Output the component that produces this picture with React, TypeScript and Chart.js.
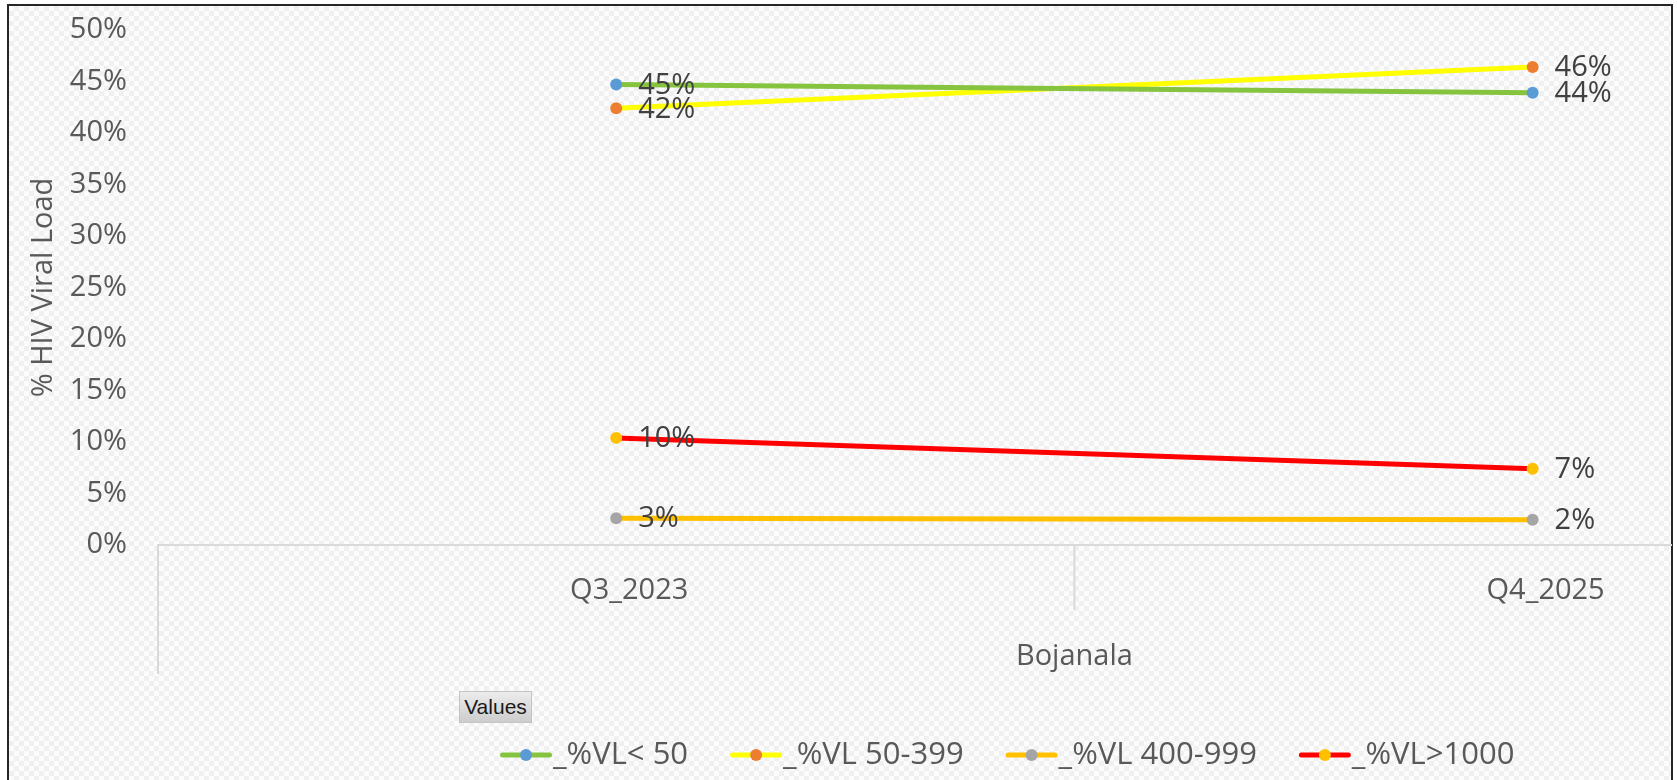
import React, { useEffect, useRef } from 'react';
import { Chart, registerables } from 'chart.js';

Chart.register(...registerables);

const categories = ['Q3_2023', 'Q4_2025'];
const regionLabel = 'Bojanala';
const yTitle = '% HIV Viral Load';
const legendTitle = 'Values';
const seriesNames = ['_%VL< 50', '_%VL 50-399', '_%VL 400-999', '_%VL>1000'];
const vlBelow50 = [44.7, 43.9];
const vl50to399 = [42.4, 46.4];
const vl400to999 = [2.6, 2.45];
const vlAbove1000 = [10.4, 7.4];
const seriesValues = [vlBelow50, vl50to399, vl400to999, vlAbove1000];
const lineColors = ['#86C440', '#FFFF00', '#FFC000', '#FF0000'];
const pointColors = ['#5B9BD5', '#ED7D31', '#A5A5A5', '#FFC000'];
const yMin = 0;
const yMax = 50;
const yStep = 5;

const FONT = "'Open Sans', 'Noto Sans', sans-serif";

const overlayPlugin = {
  id: 'overlay',
  afterDatasetsDraw(chart: any) {
    const ctx = chart.ctx;
    const xs = chart.scales.x;
    const area = chart.chartArea;
    ctx.save();
    // multi-level axis separators
    ctx.strokeStyle = '#d9d9d9';
    ctx.lineWidth = 2;
    const xl = xs.getPixelForValue(-0.5);
    const xm = xs.getPixelForValue(0.5);
    ctx.beginPath();
    ctx.moveTo(xl, area.bottom);
    ctx.lineTo(xl, area.bottom + 129);
    ctx.moveTo(xm, area.bottom);
    ctx.lineTo(xm, area.bottom + 65);
    ctx.stroke();
    // category labels
    ctx.fillStyle = '#595959';
    ctx.font = `29px ${FONT}`;
    ctx.textAlign = 'center';
    ctx.textBaseline = 'middle';
    categories.forEach((c, i) => {
      ctx.fillText(c, xs.getPixelForValue(i) + 13, area.bottom + 46);
    });
    // group label
    ctx.fillText(regionLabel, xm, area.bottom + 112);
    // data labels
    ctx.textAlign = 'left';
    ctx.fillStyle = '#404040';
    chart.data.datasets.forEach((ds: any, i: number) => {
      const meta = chart.getDatasetMeta(i);
      meta.data.forEach((pt: any, j: number) => {
        const v = ds.data[j].y;
        ctx.fillText(Math.round(v) + '%', pt.x + 22, pt.y + 1);
      });
    });
    // legend
    let x = 500;
    const y = 755;
    ctx.font = `31px ${FONT}`;
    chart.data.datasets.forEach((ds: any, i: number) => {
      ctx.strokeStyle = lineColors[i];
      ctx.lineWidth = 5;
      ctx.lineCap = 'round';
      ctx.beginPath();
      ctx.moveTo(x + 2.5, y);
      ctx.lineTo(x + 49.5, y);
      ctx.stroke();
      ctx.fillStyle = pointColors[i];
      ctx.beginPath();
      ctx.arc(x + 26, y, 6, 0, Math.PI * 2);
      ctx.fill();
      ctx.fillStyle = '#595959';
      ctx.fillText(ds.label, x + 53, y);
      x += 53 + ctx.measureText(ds.label).width + 42;
    });
    ctx.restore();
  },
};

export default function App() {
  const canvasRef = useRef<HTMLCanvasElement | null>(null);

  useEffect(() => {
    const canvas = canvasRef.current;
    if (!canvas) return;
    const chart = new Chart(canvas, {
      type: 'line',
      data: {
        datasets: seriesValues.map((vals, i) => ({
          label: seriesNames[i],
          data: vals.map((v, j) => ({ x: j, y: v })),
          borderColor: lineColors[i],
          backgroundColor: pointColors[i],
          pointBackgroundColor: pointColors[i],
          pointBorderWidth: 0,
          pointRadius: 6,
          borderWidth: 5,
          tension: 0,
          clip: false,
        })),
      },
      options: {
        animation: false,
        responsive: false,
        devicePixelRatio: 1,
        layout: { padding: { left: 8, top: 30, right: 0, bottom: 0 } },
        plugins: {
          legend: { display: false },
          tooltip: { enabled: false },
        },
        scales: {
          x: {
            type: 'linear',
            min: -0.5,
            max: 1.151,
            afterBuildTicks: (s: any) => {
              s.ticks = categories.map((_, i) => ({ value: i }));
            },
            afterFit: (s: any) => {
              s.height = 235;
              s.paddingLeft = 0;
              s.paddingRight = 0;
            },
            ticks: { display: false },
            grid: { display: false, drawTicks: false },
            border: { display: true, color: '#d9d9d9', width: 2 },
          },
          y: {
            min: yMin,
            max: yMax,
            afterFit: (s: any) => {
              s.width = 150;
              s.paddingTop = 0;
              s.paddingBottom = 0;
            },
            ticks: {
              stepSize: yStep,
              callback: (v: any) => v + '%',
              font: { family: FONT, size: 29 },
              color: '#595959',
              padding: 31,
            },
            grid: { display: false, drawTicks: false },
            border: { display: false },
            title: {
              display: true,
              text: yTitle,
              color: '#595959',
              font: { family: FONT, size: 29 },
              padding: { top: 18, bottom: 0 },
            },
          },
        },
      },
      plugins: [overlayPlugin],
    } as any);
    return () => chart.destroy();
  }, []);

  return (
    <div
      style={{
        position: 'fixed',
        left: 0,
        top: 0,
        width: 1677,
        height: 780,
        overflow: 'hidden',
        background: '#ffffff',
      }}
    >
      <div
        style={{
          position: 'absolute',
          left: 7,
          top: 4,
          width: 1662,
          height: 800,
          border: '2px solid #262626',
          backgroundColor: '#fbfbfb',
          backgroundImage:
            'repeating-conic-gradient(#f0f0f0 0 25%, #fcfcfc 0 50%)',
          backgroundSize: '10px 10px',
        }}
      />
      <div
        style={{
          position: 'absolute',
          left: 459,
          top: 691,
          width: 73,
          height: 32,
          background: 'linear-gradient(#ececec, #cdcdcd)',
          border: '1px solid #c4c4c4',
          boxSizing: 'border-box',
          fontFamily: "'Liberation Sans Narrow', 'Liberation Sans', sans-serif",
          fontSize: 21,
          color: '#1a1a1a',
          display: 'flex',
          alignItems: 'center',
          justifyContent: 'center',
        }}
      >
        {legendTitle}
      </div>
      <canvas
        ref={canvasRef}
        width={1677}
        height={780}
        style={{ position: 'absolute', left: 0, top: 0, width: 1677, height: 780 }}
      />
    </div>
  );
}
